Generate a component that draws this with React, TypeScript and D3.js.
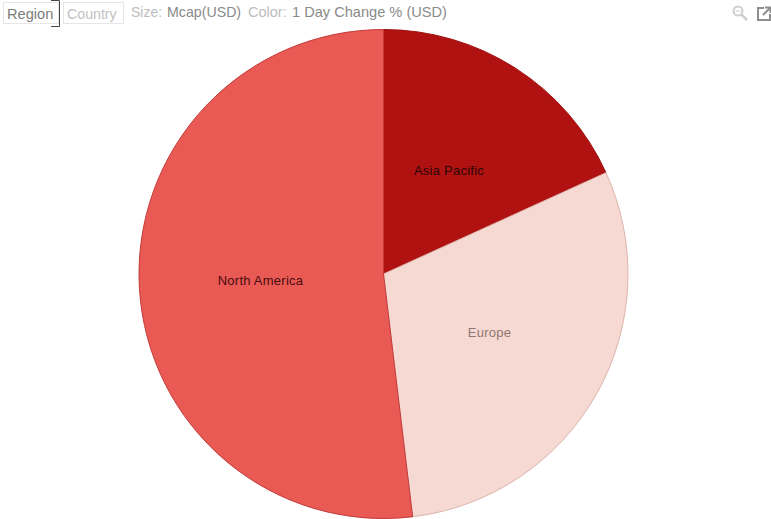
import React from "react";
import * as d3 from "d3";

const regions = ["Asia Pacific", "Europe", "North America"];
const mcapShare = [18.2, 29.9, 51.9];
const fills = ["#b01212", "#f7d9d3", "#e95a55"];
const strokes = ["#a01010", "#dcb4ac", "#c23a38"];
const labelColors = ["#2a0606", "#8f7672", "#4a0c0c"];
const labelPositions = [[449, 171.5], [489.5, 334], [260.5, 281.5]];

const cx = 383.5, cy = 274, R = 244.5;
const FONT = "'Liberation Sans', Arial, sans-serif";

export default function App() {
  const pie = d3.pie<number>().sort(null)(mcapShare);
  const arc = d3.arc<d3.PieArcDatum<number>>().innerRadius(0).outerRadius(R);
  return (
    <svg width={771} height={519} style={{ position: "absolute", left: 0, top: 0, background: "#fff" }} fontFamily={FONT}>
      <g transform={`translate(${cx},${cy})`}>
        {pie.map((d, i) => (
          <path key={regions[i]} d={arc(d) ?? ""} fill={fills[i]} stroke={strokes[i]} strokeWidth={1} />
        ))}
      </g>
      {regions.map((r, i) => (
        <text key={r} x={labelPositions[i][0]} y={labelPositions[i][1]} textAnchor="middle" dominantBaseline="middle" fontSize={13} letterSpacing={0.25} fill={labelColors[i]}>{r}</text>
      ))}

      <rect x={3.5} y={2.5} width={55} height={21} fill="#fff" stroke="#e6e6e6" />
      <path d="M51 0.5 H59.5 V26.5 H51" fill="none" stroke="#444" strokeWidth={1} />
      <text x={7} y={19} fontSize={14.6} fill="#7c7c7c">Region</text>
      <rect x={63.5} y={2.5} width={60} height={21} fill="#fff" stroke="#e6e6e6" />
      <text x={67} y={19} fontSize={14.2} fill="#c2c2c2">Country</text>

      <text x={131} y={16.5} fontSize={14} fill="#bdbdbd">Size:</text>
      <text x={167} y={16.5} fontSize={14.2} fill="#8a8a8a">Mcap(USD)</text>
      <text x={248} y={16.5} fontSize={14.5} fill="#bdbdbd">Color:</text>
      <text x={292} y={16.5} fontSize={14.6} fill="#8a8a8a">1 Day Change % (USD)</text>

      <g fill="none" stroke="#cfcfcf">
        <circle cx={738} cy={11} r={4.5} strokeWidth={2} />
        <path d="M735.5 11 H740.5" strokeWidth={1} />
        <path d="M741.5 14.5 L747 20" strokeWidth={2.5} />
      </g>
      <g fill="none" stroke="#8e8e8e" strokeWidth={2}>
        <path d="M764 8 H758 V20 H770 V14" />
        <path d="M763 15 L770 8 M765 7.5 H770.5 V13" />
      </g>
    </svg>
  );
}
